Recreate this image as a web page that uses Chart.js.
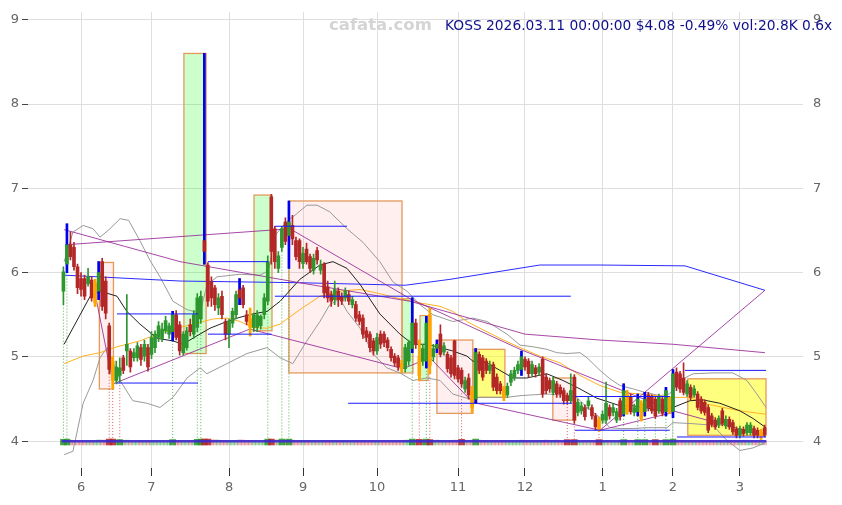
<!DOCTYPE html>
<html lang="en">
<head>
<meta charset="UTF-8">
<title>KOSS daily</title>
<script src="https://cdn.jsdelivr.net/npm/chart.js"></script>
<style>
  body { margin: 0; background: #fff; font-family: 'DejaVu Sans', sans-serif; }
  #wrap { position: relative; width: 842px; height: 505px; }
  #mark { position: absolute; left: 329px; top: 15px; font-size: 16.5px; font-weight: bold; color: #d4d4d4; z-index: 2; }
  #info { position: absolute; left: 445px; top: 17px; font-size: 13.8px; color: #10108c; z-index: 2; white-space: nowrap; }
</style>
</head>
<body>
<div id="wrap">
  <div id="mark">cafata.com</div>
  <div id="info">KOSS 2026.03.11 00:00:00 $4.08 -0.49% vol:20.8K 0.6x</div>
  <canvas id="c" width="842" height="505"></canvas>
</div>
<script>
// trading days from 2025-05-23 (index 0) to 2026-03-11 (index 199)
const monthStart = [5, 25, 47, 68, 89, 112, 131, 153, 173, 192];
const monthLabel = ['6', '7', '8', '9', '10', '11', '12', '1', '2', '3'];

// [open, high, low, close]
const ohlc = [
  [5.78,6.07,5.62,6.01],[6.10,6.58,6.00,6.33],[6.33,6.48,6.15,6.19],[6.30,6.36,6.03,6.07],[6.07,6.10,5.75,5.82],
  [5.93,6.00,5.72,5.80],[5.93,5.97,5.68,5.72],[5.87,6.05,5.84,5.95],[5.91,5.95,5.66,5.70],[5.64,5.92,5.60,5.88],
  [5.78,6.13,5.68,6.00],[6.13,6.17,5.55,5.60],[5.90,5.95,5.45,5.52],[5.37,5.40,4.80,4.85],[4.95,5.00,4.62,4.72],
  [4.72,4.95,4.68,4.88],[4.78,4.99,4.70,4.87],[4.99,5.02,4.80,4.84],[5.07,5.74,4.90,5.15],[5.07,5.10,4.82,4.88],
  [4.99,5.10,4.95,5.05],[4.99,5.17,4.95,5.13],[5.11,5.15,4.90,4.97],[5.01,5.20,4.95,5.15],[5.11,5.15,4.83,4.88],
  [5.03,5.30,4.98,5.23],[5.11,5.31,5.05,5.27],[5.23,5.42,5.18,5.37],[5.22,5.40,5.18,5.33],[5.31,5.48,5.28,5.43],
  [5.27,5.40,5.22,5.37],[5.30,5.54,5.19,5.50],[5.50,5.55,5.20,5.23],[5.38,5.42,5.02,5.07],[5.05,5.30,5.02,5.27],
  [5.11,5.35,5.08,5.31],[5.38,5.45,5.25,5.30],[5.27,5.55,5.22,5.50],[5.35,5.75,5.30,5.70],[5.45,5.78,5.40,5.72],
  [6.38,8.60,6.10,6.25],[6.09,6.12,5.60,5.66],[5.89,5.95,5.60,5.70],[5.82,5.85,5.55,5.62],[5.58,5.75,5.50,5.70],
  [5.72,5.78,5.45,5.50],[5.42,5.45,5.20,5.27],[5.27,5.45,5.11,5.42],[5.40,5.58,5.35,5.54],[5.50,5.78,5.45,5.74],
  [5.80,5.93,5.62,5.70],[5.82,5.85,5.58,5.62],[5.50,5.55,5.38,5.42],[5.45,5.58,5.25,5.35],[5.35,5.52,5.30,5.50],
  [5.35,5.55,5.30,5.50],[5.37,5.50,5.33,5.48],[5.50,5.75,5.45,5.70],[5.66,6.20,5.62,6.13],[6.90,6.93,6.10,6.25],
  [6.52,6.55,6.05,6.13],[6.05,6.25,6.00,6.20],[6.30,6.55,6.25,6.52],[6.60,6.65,6.33,6.37],[6.44,6.85,6.05,6.60],
  [6.56,6.68,6.33,6.40],[6.38,6.42,6.15,6.19],[6.38,6.40,6.05,6.13],[6.11,6.30,6.05,6.23],[6.28,6.35,6.10,6.13],
  [6.19,6.22,6.00,6.05],[6.03,6.22,5.98,6.17],[6.26,6.30,6.10,6.15],[6.03,6.15,5.98,6.09],[6.10,6.12,5.70,5.76],
  [5.83,5.90,5.65,5.70],[5.74,5.78,5.60,5.66],[5.68,5.90,5.62,5.80],[5.78,5.82,5.60,5.68],[5.72,5.76,5.62,5.66],
  [5.70,5.82,5.66,5.78],[5.74,5.78,5.62,5.66],[5.62,5.72,5.58,5.68],[5.62,5.66,5.42,5.46],[5.50,5.54,5.38,5.42],
  [5.46,5.50,5.22,5.27],[5.31,5.35,5.18,5.23],[5.27,5.30,5.06,5.11],[5.19,5.22,5.02,5.07],[5.07,5.28,5.03,5.23],
  [5.27,5.31,5.10,5.15],[5.27,5.30,5.12,5.17],[5.20,5.23,5.07,5.11],[5.09,5.12,4.95,4.99],[5.01,5.04,4.89,4.93],
  [4.99,5.02,4.84,4.88],[4.92,4.96,4.82,4.86],[4.86,5.15,4.82,5.11],[4.95,5.20,4.90,5.17],[5.10,5.70,5.05,5.40],
  [5.40,5.45,5.10,5.15],[5.00,5.20,4.72,4.78],[4.95,5.15,4.90,5.10],[4.95,5.48,4.87,5.40],[5.50,5.58,4.80,4.90],
  [5.00,5.15,4.95,5.10],[5.10,5.20,5.05,5.15],[5.27,5.38,5.00,5.03],[5.06,5.17,5.02,5.13],[5.03,5.06,4.82,4.86],
  [4.99,5.02,4.76,4.80],[5.19,5.20,4.74,4.78],[4.87,4.90,4.70,4.74],[4.84,4.87,4.64,4.68],[4.62,4.76,4.58,4.72],
  [4.75,4.80,4.50,4.55],[4.60,4.65,4.34,4.40],[4.50,5.10,4.45,5.05],[5.03,5.06,4.80,4.84],[4.99,5.02,4.72,4.76],
  [4.95,4.98,4.80,4.84],[4.84,4.95,4.80,4.90],[4.91,4.94,4.60,4.64],[4.76,4.80,4.56,4.60],[4.68,4.71,4.56,4.60],
  [4.62,4.65,4.48,4.52],[4.55,4.69,4.52,4.65],[4.70,4.84,4.66,4.80],[4.76,4.88,4.72,4.84],[4.84,4.95,4.80,4.91],
  [4.85,5.07,4.78,5.00],[4.97,5.00,4.84,4.88],[4.95,4.98,4.76,4.80],[4.80,4.95,4.77,4.91],[4.87,4.90,4.76,4.80],
  [4.82,4.92,4.78,4.88],[4.97,5.00,4.52,4.56],[4.76,4.80,4.56,4.60],[4.72,4.75,4.58,4.62],[4.58,4.76,4.55,4.72],
  [4.68,4.71,4.52,4.56],[4.64,4.67,4.52,4.56],[4.60,4.63,4.44,4.48],[4.54,4.57,4.44,4.48],[4.48,4.80,4.45,4.60],
  [4.76,4.79,4.21,4.25],[4.34,4.50,4.30,4.46],[4.36,4.46,4.32,4.42],[4.40,4.43,4.25,4.29],[4.42,4.52,4.38,4.48],
  [4.40,4.43,4.26,4.30],[4.30,4.33,4.13,4.17],[4.25,4.28,4.12,4.15],[4.25,4.36,4.21,4.32],[4.25,4.70,4.21,4.45],
  [4.40,4.43,4.26,4.30],[4.34,4.44,4.30,4.40],[4.25,4.39,4.22,4.35],[4.48,4.51,4.25,4.29],[4.32,4.68,4.30,4.60],
  [4.55,4.60,4.32,4.35],[4.52,4.56,4.32,4.35],[4.34,4.44,4.30,4.40],[4.35,4.56,4.30,4.50],[4.45,4.48,4.24,4.27],
  [4.35,4.58,4.30,4.50],[4.55,4.58,4.36,4.40],[4.52,4.55,4.33,4.36],[4.50,4.53,4.27,4.30],[4.36,4.56,4.33,4.52],
  [4.50,4.53,4.30,4.33],[4.35,4.64,4.30,4.60],[4.50,4.53,4.33,4.36],[4.35,4.85,4.28,4.80],[4.82,4.87,4.60,4.64],
  [4.80,4.83,4.58,4.62],[4.75,4.93,4.55,4.58],[4.56,4.72,4.53,4.68],[4.64,4.67,4.49,4.52],[4.55,4.66,4.52,4.62],
  [4.56,4.59,4.37,4.40],[4.50,4.53,4.33,4.36],[4.46,4.49,4.31,4.34],[4.40,4.43,4.10,4.13],[4.30,4.33,4.17,4.20],
  [4.25,4.28,4.14,4.17],[4.19,4.30,4.16,4.27],[4.36,4.39,4.18,4.21],[4.18,4.30,4.15,4.26],[4.26,4.29,4.14,4.17],
  [4.22,4.25,4.08,4.11],[4.14,4.17,4.04,4.07],[4.07,4.18,4.04,4.15],[4.14,4.17,4.06,4.09],[4.10,4.22,4.07,4.19],
  [4.10,4.22,4.07,4.19],[4.15,4.18,4.04,4.07],[4.13,4.16,4.04,4.07],[4.06,4.14,4.02,4.10],[4.16,4.19,4.05,4.08]
];

// volume, thousand shares
const volume = [
  120,180,60,40,35,30,30,28,30,40, 90,70,60,150,160,70,110,45,60,35,
  30,28,30,28,32,30,28,30,26,30, 30,110,45,40,30,28,30,35,120,140,
  2100,420,90,90,60,55,50,45,40,45, 90,60,40,55,35,30,30,45,180,260,
  80,70,150,80,140,60,45,40,35,35, 30,30,28,28,50,40,35,30,30,28,
  28,28,26,35,35,40,30,32,30,28, 28,26,26,30,30,30,35,60,70,180,
  90,120,70,150,110,40,70,45,35,40, 40,60,45,120,40,50,70,160,60,45,
  40,35,45,35,30,40,30,30,28,28, 60,35,30,28,28,28,45,70,35,30,
  70,30,30,110,40,110,30,28,30,28, 30,35,110,30,40,28,30,28,50,110,
  60,40,30,100,50,100,35,30,100,30, 30,110,50,160,70,45,40,30,28,30,
  30,28,28,35,30,28,26,30,26,28, 28,28,26,28,26,26,28,28,30,21
];

const blueDays = [1, 10, 31, 40, 50, 64, 99, 103, 106, 117, 130, 159, 163, 165, 171, 173];
const orangeDays = [9, 14, 53, 96, 101, 104, 116, 125, 152, 160, 164, 172, 198];
const upMarks = [0, 1, 31, 38, 39, 58, 62, 64, 99, 103, 159, 163, 165, 168, 171, 173];
const downMarks = [13, 14, 16, 101, 104, 113, 143, 145, 152];

// [day, price]
const ma20 = [[0.2,5.15],[7.6,5.72],[10.4,5.78],[15.2,5.72],[18,5.54],[21.7,5.39],[26.6,5.22],[31.1,5.19],[33.9,5.15],
  [37.9,5.25],[41.6,5.34],[46.4,5.42],[50.1,5.47],[53.8,5.51],[57.8,5.54],[61.5,5.66],[67.1,5.92],[72.8,6.09],
  [76.5,6.13],[80.5,6.05],[84.2,5.86],[89.8,5.51],[95.5,5.27],[99.2,5.15],[103.2,5.15],[106.9,5.11],[110.5,5.07],
  [114.5,5.01],[116.2,4.95],[120.2,4.93],[123.9,4.84],[127.6,4.75],[131.5,4.75],[137.2,4.80],[141.8,4.72],
  [146.6,4.62],[151.4,4.51],[155.1,4.46],[158,4.42],[161.7,4.42],[165,4.40],[169.3,4.36],[173,4.40],[177.8,4.48],
  [181.5,4.49],[186.3,4.45],[192,4.36],[195.7,4.27],[199.4,4.16]];
const ma50 = [[0.2,4.92],[5.6,5.01],[10.4,5.05],[15.2,5.12],[21.7,5.19],[26.6,5.27],[32.2,5.34],[37.9,5.40],
  [42.5,5.45],[46.4,5.46],[50.1,5.42],[53.8,5.35],[57.8,5.34],[61.5,5.39],[67.1,5.56],[72.8,5.72],[78.5,5.78],
  [84.2,5.80],[89.8,5.75],[95.5,5.69],[101.2,5.64],[106.9,5.60],[110.5,5.54],[114.5,5.42],[118.2,5.34],
  [123.9,5.22],[129.6,5.11],[135.2,5.01],[140.9,4.93],[146.6,4.78],[152.3,4.66],[158,4.58],[163.6,4.56],
  [173,4.52],[177.8,4.52],[181.5,4.45],[192,4.36],[199.4,4.32]];
const bbUpper = [[0.2,6.13],[2.7,6.48],[5.6,6.56],[8.4,6.52],[10.4,6.42],[13.2,6.52],[16.1,6.64],[18.5,6.62],
  [21.7,6.38],[24.5,6.15],[27.4,5.95],[31.1,5.66],[35.1,5.56],[38.8,5.52],[40.7,5.85],[43.6,5.95],[50.1,5.98],
  [55.8,5.97],[58.1,6.02],[58.6,6.10],[60,6.44],[63.7,6.62],[65.7,6.68],[69.1,6.80],[72,6.80],[75.6,6.72],
  [80.5,6.52],[85,6.36],[89.8,6.13],[93.5,5.89],[97.5,5.78],[101.2,5.62],[104.9,5.50],[110.5,5.42],[116.2,5.46],
  [120.2,5.42],[125.9,5.27],[129.6,5.14],[133.3,5.12],[137.2,5.09],[140,5.05],[142.9,5.04],[146.6,5.05],
  [148.6,4.99],[152.3,4.84],[155.1,4.74],[158,4.66],[161.7,4.62],[165,4.58],[169.3,4.54],[172,4.56],[175,4.72],
  [178.7,4.80],[184.3,4.81],[190,4.81],[194,4.72],[196.8,4.56],[199.4,4.40]];
const bbLower = [[0.2,3.84],[2.7,3.88],[5.6,4.45],[8.4,4.72],[10.4,4.99],[12.4,5.11],[14,4.95],[16.1,4.72],
  [19.7,4.48],[23.7,4.45],[27.4,4.40],[31.1,4.52],[35.1,4.75],[38.8,4.87],[40.7,4.80],[46.4,4.92],[52.1,5.04],
  [57.8,5.11],[61.5,4.99],[65.1,4.92],[69.1,5.19],[72.8,5.42],[75.6,5.62],[78.5,5.69],[80.5,5.54],[84.2,5.34],
  [87.8,5.04],[91.8,4.87],[95.5,4.81],[99.2,4.72],[103.2,4.75],[106.9,4.72],[110.5,4.56],[114.5,4.51],
  [118.2,4.52],[125.9,4.52],[129.6,4.54],[133.3,4.55],[137.2,4.56],[140.9,4.55],[145.7,4.52],[148.6,4.40],
  [152.3,4.28],[155.1,4.16],[158,4.15],[161.7,4.15],[165,4.16],[171.3,4.16],[173,4.22],[177.8,4.21],
  [184.3,4.19],[188.3,4.01],[192,3.89],[195.7,3.92],[199.1,3.98]];
const ma200 = [[0.2,5.97],[33.1,5.90],[67,5.88],[97,5.85],[109.7,5.92],[135.2,6.09],[152.3,6.09],[176.4,6.08],[199.1,5.79]];

const trendLines = [
  [[0.5,6.33],[64.3,6.52]],
  [[0.2,6.51],[33.1,6.13],[67,5.88],[98.4,5.66],[131,5.27],[152.3,5.20],[173,5.15],[199.1,5.05]],
  [[64.3,6.52],[98.4,5.69],[129.6,5.09],[173,4.36],[199.4,4.06]],
  [[9,5.75],[14.1,4.68],[52.9,5.33],[96.4,4.86],[104,4.99],[116.2,4.46],[152.3,4.13],[173,4.34]],
  [[152.3,4.13],[199.1,5.79]]
];
// [from day, to day, price]
const levels = [[15.2,38.2,4.69],[15.2,38.2,5.51],[41,58.1,6.13],[41,59.1,5.27],[60,80.5,6.55],[60,144,5.72],
  [80.8,144.3,4.45],[145.2,172.1,4.53],[145.2,172.1,4.13],[176.4,199.4,4.84],[174.1,199.4,4.05]];

const zoneStart = [10.2, 34.2, 54.1, 64, 96.1, 101.2, 106, 116.2, 117.1, 138.9, 177.2];
const zoneEnd   = [14.2, 40.5, 59.2, 96.1, 99.2, 103.5, 116.2, 117.4, 125.3, 145.4, 199.4];
const zoneHigh  = [6.12, 8.60, 6.92, 6.85, 5.69, 5.49, 5.20, 5.09, 5.09, 4.75, 4.74];
const zoneLow   = [4.62, 5.04, 5.31, 4.81, 4.81, 4.72, 4.33, 4.45, 4.52, 4.25, 4.07];
const zoneType  = ['down','up','up','down','up','up','down','up','flat','down','flat'];

const upCol = '#2e962e', downCol = '#b32727', orangeCol = '#ffa500', blueCol = '#0000ee';
const zoneFill = { down: 'rgba(255,80,80,0.09)', up: 'rgba(0,255,0,0.2)', flat: 'rgba(255,255,0,0.5)' };

const isOrange = new Set(orangeDays);
const colorOf = i => isOrange.has(i) ? orangeCol : (ohlc[i][3] >= ohlc[i][0] ? upCol : downCol);
const pts = arr => arr.map(p => ({ x: p[0], y: p[1] }));
const segments = list => {
  const out = [];
  list.forEach(l => { l.forEach(p => out.push({ x: p[0], y: p[1] })); out.push({ x: l[l.length - 1][0], y: null }); });
  return out;
};
const marks = days => {
  const out = [];
  days.forEach(d => { out.push({ x: d, y: ohlc[d][2] }, { x: d, y: 4 }, { x: d, y: null }); });
  return out;
};
const volTop = v => 3.955 + 0.032 * Math.min(Math.log10(v), 2.2);
const volData = strong => volume.map((v, i) => (v >= 100) === strong ? { x: i, y: [3.955, volTop(v)] } : null).filter(Boolean);
const volColors = strong => volume.map((v, i) => ({ i, v })).filter(o => (o.v >= 100) === strong)
  .map(o => (ohlc[o.i][3] >= ohlc[o.i][0] ? (strong ? 'rgba(40,150,40,0.85)' : 'rgba(40,150,40,0.35)') : (strong ? 'rgba(180,40,40,0.85)' : 'rgba(200,60,60,0.35)')));

const zonesPlugin = {
  id: 'zones',
  beforeDatasetsDraw(chart) {
    const { ctx, scales: { x, y } } = chart;
    ctx.save();
    zoneStart.forEach((s, i) => {
      const x0 = x.getPixelForValue(s), x1 = x.getPixelForValue(zoneEnd[i]);
      const y0 = y.getPixelForValue(zoneHigh[i]), y1 = y.getPixelForValue(zoneLow[i]);
      ctx.fillStyle = zoneFill[zoneType[i]];
      ctx.fillRect(x0, y0, x1 - x0, y1 - y0);
      ctx.strokeStyle = '#e49a5c';
      ctx.lineWidth = 1.3;
      ctx.strokeRect(x0, y0, x1 - x0, y1 - y0);
    });
    ctx.restore();
  }
};

Chart.defaults.font.family = "'DejaVu Sans', sans-serif";
const line = (data, color, order, extra) => Object.assign({
  type: 'line', data, borderColor: color, borderWidth: 1, pointRadius: 0, tension: 0, fill: false, spanGaps: false, order
}, extra || {});
const bar = (data, color, thick, order) => ({
  type: 'bar', data, backgroundColor: color, barThickness: thick, grouped: false, borderWidth: 0, minBarLength: 1, order
});

new Chart(document.getElementById('c'), {
  type: 'bar',
  data: {
    datasets: [
      bar(volData(false), volColors(false), 4, 20),
      bar(volData(true), volColors(true), 6, 19),
      line(marks(upMarks), 'rgba(40,160,40,0.8)', 18, { borderDash: [1, 2] }),
      line(marks(downMarks), 'rgba(210,50,50,0.8)', 18, { borderDash: [1, 2] }),
      line(pts(bbUpper), '#999999', 15),
      line(pts(bbLower), '#999999', 15),
      line(pts(ma200), '#2a2aff', 14),
      line(pts(ma50), '#ffb020', 13),
      line(pts(ma20), '#222222', 12),
      line(segments(trendLines), 'rgba(150,40,150,0.85)', 11),
      bar(ohlc.map((d, i) => ({ x: i, y: [d[2], d[1]] })), ohlc.map((d, i) => colorOf(i)), 1, 6),
      bar(blueDays.map(i => ({ x: i, y: [ohlc[i][2], ohlc[i][1]] })), blueCol, 2, 5),
      bar(ohlc.map((d, i) => ({ x: i, y: [d[0], d[3]] })), ohlc.map((d, i) => colorOf(i)), 3, 4),
      bar(orangeDays.map(i => ({ x: i, y: [ohlc[i][2], ohlc[i][1]] })), orangeCol, 2, 3),
      line(segments(levels.map(l => [[l[0], l[2]], [l[1], l[2]]])), '#1a1aff', 2),
      line([{ x: -0.5, y: 4 }, { x: 199.5, y: 4 }], 'rgba(60,40,210,0.9)', 1, { borderWidth: 2.5 })
    ]
  },
  options: {
    responsive: false,
    animation: false,
    layout: { padding: { top: 8 } },
    plugins: { legend: { display: false }, tooltip: { enabled: false } },
    scales: {
      x: {
        type: 'linear', min: -10.05, max: 209.9, offset: false,
        afterBuildTicks: s => { s.ticks = monthStart.map(v => ({ value: v })); },
        afterFit: s => { s.height = 37; },
        ticks: { callback: v => monthLabel[monthStart.indexOf(v)], color: '#666', font: { size: 13 }, padding: 4, maxRotation: 0 },
        grid: { offset: false, color: '#dedede', tickColor: '#333', tickLength: 8 },
        border: { display: false }
      },
      y: {
        position: 'left', min: 3.682, max: 9.094,
        afterBuildTicks: s => { s.ticks = [4, 5, 6, 7, 8, 9].map(v => ({ value: v })); },
        afterFit: s => { s.width = 28; },
        ticks: { color: '#666', font: { size: 13 }, padding: 3 },
        grid: { color: '#dedede', tickColor: '#444', tickLength: 6 },
        border: { display: false }
      },
      yr: {
        position: 'right', min: 3.682, max: 9.094,
        afterBuildTicks: s => { s.ticks = [4, 5, 6, 7, 8, 9].map(v => ({ value: v })); },
        afterFit: s => { s.width = 39; },
        ticks: { color: '#666', font: { size: 13 }, padding: 4 },
        grid: { drawOnChartArea: false, tickColor: 'rgba(0,0,0,0)', tickLength: 6 },
        border: { display: false }
      }
    }
  },
  plugins: [zonesPlugin]
});
</script>
</body>
</html>
